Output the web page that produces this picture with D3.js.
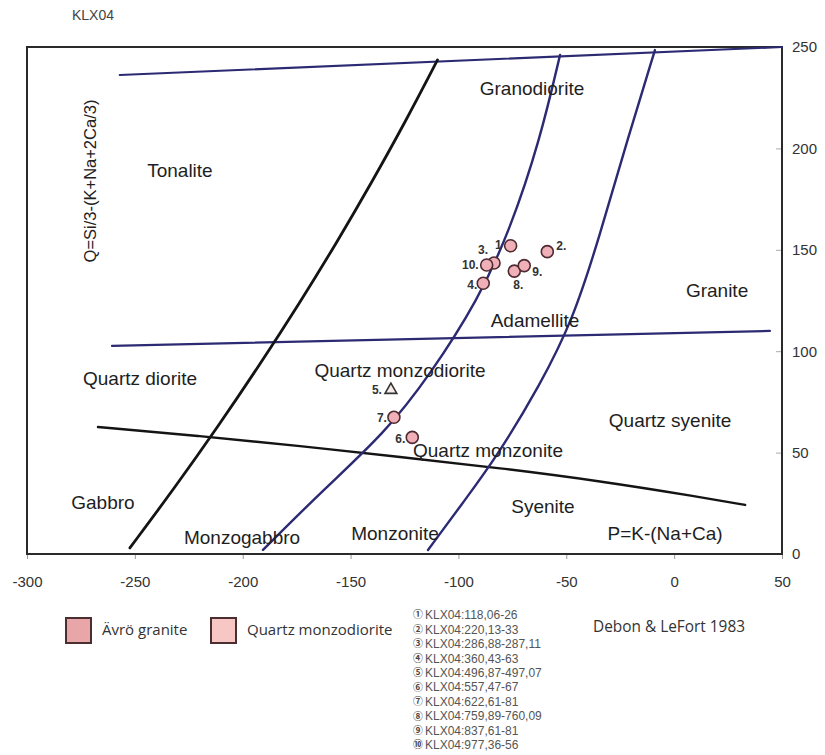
<!DOCTYPE html>
<html>
<head>
<meta charset="utf-8">
<script src="https://cdn.jsdelivr.net/npm/d3@7"></script>
<style>
  body { margin: 0; background: #fff; }
  svg { display: block; }
</style>
</head>
<body>
<div id="chart"></div>
<script>
// Samples (P, Q)
const sampleIds = ['1', '2', '3', '4', '5', '6', '7', '8', '9', '10'];
const sampleP = [-75.8, -58.8, -83.5, -88.5, -131.3, -121.4, -129.9, -74.1, -69.5, -86.9];
const sampleQ = [152.0, 149.1, 143.5, 133.5, 80.9, 57.5, 67.4, 139.5, 142.2, 142.5];
const sampleShape = ['circle', 'circle', 'circle', 'circle', 'triangle', 'circle', 'circle', 'circle', 'circle', 'circle'];

const sampleNames = [
    'KLX04:118,06-26', 'KLX04:220,13-33', 'KLX04:286,88-287,11', 'KLX04:360,43-63',
    'KLX04:496,87-497,07', 'KLX04:557,47-67', 'KLX04:622,61-81', 'KLX04:759,89-760,09',
    'KLX04:837,61-81', 'KLX04:977,36-56'
];
const circledNums = ['①', '②', '③', '④', '⑤', '⑥', '⑦', '⑧', '⑨', '⑩'];

const legendNames = ['Ävrö granite', 'Quartz monzodiorite'];

// Field boundaries (P, Q)
const topLine = [[-257, 236.2], [50, 250]];
const midLine = [[-260.6, 102.6], [44.4, 110.0]];
const lowCurve = [[-267.1, 62.6], [-219.8, 58.2], [-173.4, 53.3], [-127.1, 47.8],
    [-80.7, 42.4], [-34.4, 36.0], [11.9, 28.1], [32.9, 24.2]];
const leftCurve = [[-252.3, 3.0], [-231.3, 33.0], [-211.3, 63.1], [-192.2, 93.2],
    [-173.9, 123.3], [-156.5, 153.4], [-140.1, 183.4], [-124.4, 213.5], [-109.7, 243.6]];
const midCurve = [[-190.6, 2.0], [-163.2, 31.1], [-134.0, 59.7], [-113.2, 88.3],
    [-90.9, 125.2], [-76.1, 159.8], [-62.2, 204.1], [-52.9, 246.1]];
const rightCurve = [[-114.1, 2.0], [-97.0, 26.6], [-81.7, 48.8], [-62.2, 83.3],
    [-46.9, 115.4], [-34.4, 157.3], [-22.4, 201.7], [-8.9, 248.5]];

// Field names placed at (P, Q)
const fieldNames = ['Granodiorite', 'Tonalite', 'Granite', 'Adamellite', 'Quartz diorite',
    'Quartz monzodiorite', 'Quartz syenite', 'Quartz monzonite', 'Gabbro', 'Syenite',
    'Monzogabbro', 'Monzonite', 'P=K-(Na+Ca)'];
const fieldP = [-65.9, -229.1, 19.9, -64.5, -247.6, -127.1, -1.9, -86.3, -264.8, -60.8, -200.3, -129.4, -4.2];
const fieldQ = [229.8, 189.4, 130.2, 115.4, 86.8, 90.7, 66.1, 51.3, 25.6, 23.7, 8.4, 10.4, 10.4];

const xTicks = [-300, -250, -200, -150, -100, -50, 0, 50];
const yTicks = [0, 50, 100, 150, 200, 250];

const width = 825;
const height = 755;
const frame = { left: 27, right: 782, top: 47, bottom: 554 };

const navy = '#2c2a72';
const dark = '#141414';
const sans = '"Liberation Sans", Arial, sans-serif';
const myriad = '"Open Sans", "Noto Sans", sans-serif';

const svg = d3.select('#chart')
    .append('svg')
    .attr('width', width)
    .attr('height', height)
    .style('font-family', sans);

const x = d3.scaleLinear().domain([-300, 50]).range([frame.left, frame.right]);
const y = d3.scaleLinear().domain([0, 250]).range([frame.bottom, frame.top]);

// title
svg.append('text')
    .attr('x', 72)
    .attr('y', 20)
    .attr('font-size', 14)
    .attr('fill', '#444')
    .text('KLX04');

// axes
const xAxis = svg.append('g')
    .attr('transform', `translate(0,${frame.bottom})`)
    .call(d3.axisBottom(x).tickValues(xTicks).tickSize(5).tickPadding(17).tickFormat(d => String(d)));
xAxis.select('.domain').remove();
xAxis.selectAll('line').attr('stroke', '#999');
xAxis.selectAll('text').attr('font-size', 15).attr('fill', '#333').style('font-family', sans);

const yAxis = svg.append('g')
    .attr('transform', `translate(${frame.right},0)`)
    .call(d3.axisRight(y).tickValues(yTicks).tickSizeInner(-6).tickSizeOuter(0).tickPadding(10).tickFormat(d => String(d)));
yAxis.select('.domain').remove();
yAxis.selectAll('line').attr('stroke', '#aaa');
yAxis.selectAll('text').attr('font-size', 15).attr('fill', '#333').style('font-family', sans);

// frame
svg.append('rect')
    .attr('x', frame.left)
    .attr('y', frame.top)
    .attr('width', frame.right - frame.left)
    .attr('height', frame.bottom - frame.top)
    .attr('fill', 'none')
    .attr('stroke', '#2a2a2a')
    .attr('stroke-width', 2);

// y label
svg.append('text')
    .attr('transform', 'translate(96,181) rotate(-90)')
    .attr('text-anchor', 'middle')
    .attr('font-size', 16.5)
    .attr('fill', '#222')
    .text('Q=Si/3-(K+Na+2Ca/3)');

// boundaries
const line = d3.line()
    .x(d => x(d[0]))
    .y(d => y(d[1]))
    .curve(d3.curveBasis);

const boundaries = [
    { pts: topLine, color: navy, w: 2.2 },
    { pts: midLine, color: navy, w: 2.2 },
    { pts: lowCurve, color: dark, w: 2.4 },
    { pts: leftCurve, color: dark, w: 2.8 },
    { pts: midCurve, color: navy, w: 2.4 },
    { pts: rightCurve, color: navy, w: 2.4 }
];

svg.append('g')
    .selectAll('path')
    .data(boundaries)
    .join('path')
    .attr('d', d => line(d.pts))
    .attr('fill', 'none')
    .attr('stroke', d => d.color)
    .attr('stroke-width', d => d.w)
    .attr('stroke-linecap', 'round');

// field names
svg.append('g')
    .selectAll('text')
    .data(fieldNames)
    .join('text')
    .attr('x', (d, i) => x(fieldP[i]))
    .attr('y', (d, i) => y(fieldQ[i]))
    .attr('dy', '0.35em')
    .attr('text-anchor', 'middle')
    .attr('font-size', 19)
    .attr('fill', '#1e1e1e')
    .text(d => d);

// samples
const samples = sampleIds.map((id, i) => ({ id, p: sampleP[i], q: sampleQ[i], shape: sampleShape[i] }));

// label offsets (px) around each marker
const labelPos = {
    '1': [-9, -1, 'end'], '2': [9, -6, 'start'], '3': [-11, -13, 'middle'],
    '4': [-6, 2, 'end'], '5': [-9, 0, 'end'], '6': [-7, 1, 'end'], '7': [-7, 0, 'end'],
    '8': [4, 14, 'middle'], '9': [8, 6, 'start'], '10': [-8, 0, 'end']
};

const pts = svg.append('g');
pts.selectAll('circle')
    .data(samples.filter(d => d.shape === 'circle'))
    .join('circle')
    .attr('cx', d => x(d.p))
    .attr('cy', d => y(d.q))
    .attr('r', 6)
    .attr('fill', '#efb0b8')
    .attr('stroke', '#4e2a32')
    .attr('stroke-width', 1.6);

pts.selectAll('path')
    .data(samples.filter(d => d.shape === 'triangle'))
    .join('path')
    .attr('transform', d => `translate(${x(d.p)},${y(d.q)})`)
    .attr('d', d3.symbol(d3.symbolTriangle, 60))
    .attr('fill', '#f6eaea')
    .attr('stroke', '#333')
    .attr('stroke-width', 1.6);

pts.selectAll('text')
    .data(samples)
    .join('text')
    .attr('x', d => x(d.p) + labelPos[d.id][0])
    .attr('y', d => y(d.q) + labelPos[d.id][1])
    .attr('dy', '0.35em')
    .attr('text-anchor', d => labelPos[d.id][2])
    .attr('font-size', 12)
    .attr('font-weight', 'bold')
    .attr('fill', '#333')
    .text(d => d.id === '1' ? '1' : d.id + '.');

// legend
const legendFill = ['#e9a6a8', '#f6c7c4'];
const legendX = [66, 211];
const legend = svg.append('g')
    .style('font-family', myriad);
legend.selectAll('rect')
    .data(legendNames)
    .join('rect')
    .attr('x', (d, i) => legendX[i])
    .attr('y', 618)
    .attr('width', 25)
    .attr('height', 25)
    .attr('fill', (d, i) => legendFill[i])
    .attr('stroke', '#4a2e30')
    .attr('stroke-width', 2);
legend.selectAll('text')
    .data(legendNames)
    .join('text')
    .attr('x', (d, i) => legendX[i] + 36)
    .attr('y', 630)
    .attr('dy', '0.35em')
    .attr('font-size', 15)
    .attr('fill', '#333')
    .text(d => d);

// sample list
const list = svg.append('g');
list.selectAll('text.num')
    .data(circledNums)
    .join('text')
    .attr('class', 'num')
    .attr('x', 413)
    .attr('y', (d, i) => 615 + i * 14.45)
    .attr('dy', '0.35em')
    .attr('font-size', 9.8)
    .attr('font-weight', 'bold')
    .attr('fill', '#444')
    .style('font-family', '"Noto Sans CJK SC", sans-serif')
    .text(d => d);
list.selectAll('text.name')
    .data(sampleNames)
    .join('text')
    .attr('class', 'name')
    .attr('x', 425)
    .attr('y', (d, i) => 615 + i * 14.45)
    .attr('dy', '0.35em')
    .attr('font-size', 12)
    .attr('fill', '#555')
    .text(d => d);

svg.append('text')
    .attr('x', 593)
    .attr('y', 627)
    .attr('dy', '0.35em')
    .attr('font-size', 15.4)
    .attr('fill', '#333')
    .style('font-family', myriad)
    .text('Debon & LeFort 1983');
</script>
</body>
</html>
